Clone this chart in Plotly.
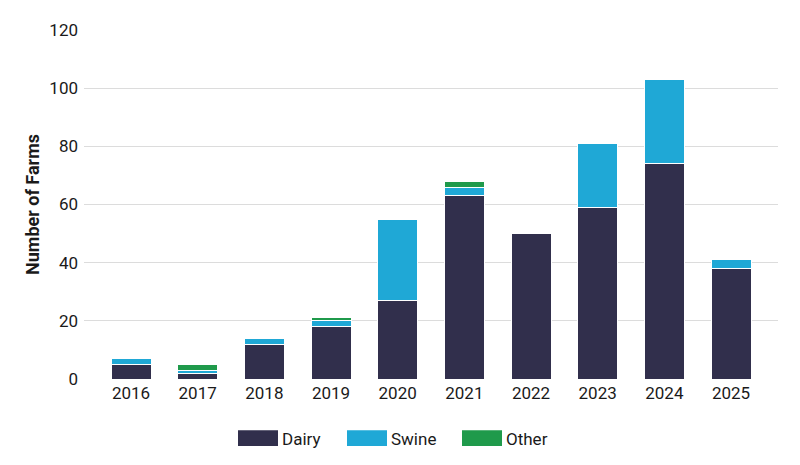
import plotly.graph_objects as go

years = ["2016", "2017", "2018", "2019", "2020", "2021", "2022", "2023", "2024", "2025"]
dairy = [5, 2, 12, 18, 27, 63, 50, 59, 74, 38]
swine = [2, 1, 2, 2, 28, 3, 0, 22, 29, 3]
other = [0, 2, 0, 1, 0, 2, 0, 0, 0, 0]

series_names = ["Dairy", "Swine", "Other"]
colors = ["#312f4c", "#1fa8d6", "#1f9a4b"]
y_ticks = [0, 20, 40, 60, 80, 100, 120]

FONT = "Roboto"

fig = go.Figure()
for name, vals, col in zip(series_names, [dairy, swine, other], colors):
    fig.add_trace(go.Bar(
        x=years, y=vals, name=name, marker_color=col,
        marker_line=dict(color="white", width=1),
        showlegend=False,
    ))

# custom legend with wide rectangular swatches (page px -> paper coords)
PX0, PX1, PY0, PY1 = 84, 778, 379, 25
def px(x):
    return (x - PX0) / (PX1 - PX0)
def py(y):
    return (PY0 - y) / (PY0 - PY1)

leg_x = [238, 347, 462]
for i, (name, col) in enumerate(zip(series_names, colors)):
    fig.add_shape(type="rect", xref="paper", yref="paper",
                  x0=px(leg_x[i]), x1=px(leg_x[i] + 40),
                  y0=py(447), y1=py(431),
                  fillcolor=col, line=dict(width=0))
    fig.add_annotation(xref="paper", yref="paper",
                       x=px(leg_x[i] + 42), y=py(439.5),
                       text=name, showarrow=False, xanchor="left", yanchor="middle",
                       font=dict(family=FONT, size=17, color="#1a1a1a"))

fig.update_layout(
    width=784, height=449,
    barmode="stack", bargap=0.4,
    plot_bgcolor="white", paper_bgcolor="white",
    margin=dict(l=76, r=14, t=17, b=78),
    font=dict(family=FONT, size=17, color="#1a1a1a"),
    xaxis=dict(range=[-0.705, 9.705], showgrid=False, showline=False,
               zeroline=False, ticks="", ticklabelstandoff=2, tickfont=dict(size=17)),
    yaxis=dict(range=[0, 120], tickvals=y_ticks, showgrid=True,
               gridcolor="#dcdcdc", gridwidth=1, zeroline=False, showline=False,
               ticks="", ticklabelstandoff=5, tickfont=dict(size=17),
               title=dict(text="<b>Number of Farms</b>", font=dict(size=18), standoff=5)),
)

fig.write_html("out.html")
